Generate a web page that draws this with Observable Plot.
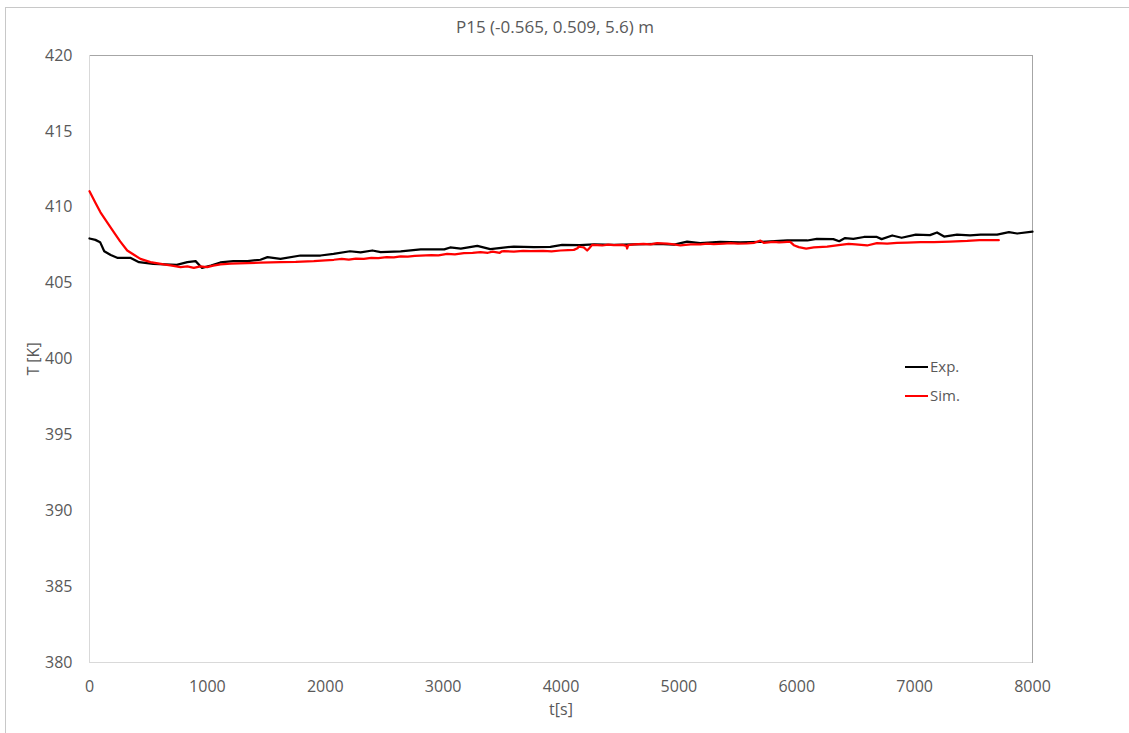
<!DOCTYPE html>
<html><head><meta charset="utf-8">
<script src="https://cdn.jsdelivr.net/npm/d3@7"></script>
<script src="https://cdn.jsdelivr.net/npm/@observablehq/plot@0.6"></script>
<style>
body{margin:0;background:#fff;font-family:"Open Sans",sans-serif;}
#wrap{position:relative;width:1129px;height:733px;overflow:hidden;background:#fff;}
#border{position:absolute;left:5px;top:7px;width:1300px;height:900px;border:1px solid #c8c8c8;}
#title{position:absolute;top:15px;left:405px;width:300px;text-align:center;font-size:17px;color:#595959;}
#chart{position:absolute;left:0;top:0;}
#legend{position:absolute;left:905px;top:352px;font-size:15px;color:#595959;line-height:29px;}
#legend div{display:flex;align-items:center;}
#legend span.sw{display:inline-block;width:23px;height:2px;margin-right:2px;}
</style></head>
<body>
<div id="wrap">
  <div id="border"></div>
  <div id="chart"></div>
  <div id="title">P15 (-0.565, 0.509, 5.6) m</div>
  <div id="legend">
    <div><span class="sw" style="background:#000"></span>Exp.</div>
    <div><span class="sw" style="background:#ff0000"></span>Sim.</div>
  </div>
</div>
<script>
const xTicks = [0,1000,2000,3000,4000,5000,6000,7000,8000];
const yTicks = [380,385,390,395,400,405,410,415,420];

const expTime = [0,50,90,125,180,240,350,420,540,740,830,900,955,1030,1110,1220,1340,1450,1510,1620,1790,1960,2070,2210,2300,2400,2470,2640,2810,3010,3060,3150,3290,3400,3600,3770,3910,4010,4160,4280,4450,4620,4820,4960,5070,5180,5350,5520,5690,5920,6090,6170,6310,6360,6410,6480,6570,6680,6720,6810,6890,7010,7130,7190,7250,7360,7470,7560,7700,7800,7870,8000];
const expTemp = [407.94,407.85,407.7,407.1,406.85,406.66,406.66,406.38,406.27,406.2,406.38,406.45,406.0,406.16,406.36,406.45,406.45,406.54,406.71,406.6,406.82,406.82,406.93,407.1,407.02,407.15,407.04,407.1,407.22,407.22,407.35,407.28,407.46,407.24,407.41,407.37,407.39,407.52,407.5,407.56,407.52,407.56,407.59,407.54,407.74,407.63,407.72,407.68,407.72,407.81,407.81,407.92,407.9,407.76,407.97,407.92,408.04,408.04,407.9,408.14,407.99,408.2,408.16,408.34,408.07,408.2,408.14,408.2,408.2,408.36,408.27,408.4];

const simTime = [0,50,93,150,206,260,320,380,432,517,630,700,772,830,885,940,998,1050,1111,1200,1338,1450,1620,1750,1903,2000,2073,2140,2200,2260,2327,2390,2450,2520,2582,2640,2700,2760,2808,2900,2960,3034,3100,3176,3250,3317,3380,3420,3480,3500,3515,3600,3680,3741,3850,3920,3996,4060,4109,4140,4151,4170,4193,4222,4240,4264,4350,4400,4448,4520,4555,4561,4570,4618,4700,4760,4816,4900,4960,5013,5100,5183,5240,5296,5380,5438,5500,5579,5640,5692,5720,5800,5850,5890,5919,5945,5975,6017,6080,6145,6258,6371,6440,6498,6597,6680,6767,6850,6937,7050,7163,7300,7446,7550,7714];
const simTemp = [411.06,410.3,409.67,409.0,408.36,407.75,407.15,406.85,406.6,406.38,406.23,406.15,406.05,406.1,406.0,406.1,406.05,406.15,406.23,406.28,406.32,406.35,406.38,406.4,406.45,406.5,406.54,406.6,406.55,406.62,406.6,406.66,406.65,406.72,406.7,406.76,406.75,406.8,406.82,406.85,406.83,406.93,406.9,406.98,407.0,407.04,407.0,407.08,407.0,407.1,407.11,407.08,407.12,407.11,407.13,407.1,407.15,407.18,407.19,407.3,407.41,407.38,407.35,407.15,407.3,407.52,407.48,407.53,407.5,407.52,407.45,407.28,407.5,407.56,407.58,407.55,407.63,407.6,407.55,407.48,407.55,407.55,407.6,407.57,407.6,407.63,407.6,407.62,407.66,407.8,407.65,407.72,407.68,407.7,407.72,407.72,407.5,407.37,407.28,407.35,407.41,407.52,407.59,407.55,407.48,407.63,407.6,407.65,407.67,407.7,407.7,407.74,407.78,407.83,407.83,407.87];

const expData = expTime.map((t,i)=>({t, T: expTemp[i]}));
const simData = simTime.map((t,i)=>({t, T: simTemp[i]}));

const chart = Plot.plot({
  width: 1129, height: 733,
  marginLeft: 89, marginRight: 97, marginTop: 55, marginBottom: 71,
  style: {fontSize: "16px", fontFamily: "'Open Sans', sans-serif", color: "#595959", background: "transparent"},
  x: {domain: [0, 8000]},
  y: {domain: [380, 420]},
  marks: [
    Plot.frame({stroke: "#a6a6a6"}),
    Plot.ruleX([0], {stroke: "#d9d9d9"}),
    Plot.ruleY([380], {stroke: "#d9d9d9"}),
    Plot.axisX({ticks: xTicks, tickSize: 0, tickPadding: 18, tickFormat: d3.format("d"), label: "t[s]", labelAnchor: "center", labelOffset: 52, labelArrow: "none"}),
    Plot.axisY({ticks: yTicks, tickSize: 0, tickPadding: 17, tickFormat: d3.format("d"), label: "T [K]", labelAnchor: "center", labelOffset: 62, labelArrow: "none"}),
    Plot.line(expData, {x: "t", y: "T", stroke: "#000000", strokeWidth: 2.25}),
    Plot.line(simData, {x: "t", y: "T", stroke: "#ff0000", strokeWidth: 2.25})
  ]
});
document.getElementById("chart").appendChild(chart);
</script>
</body></html>
